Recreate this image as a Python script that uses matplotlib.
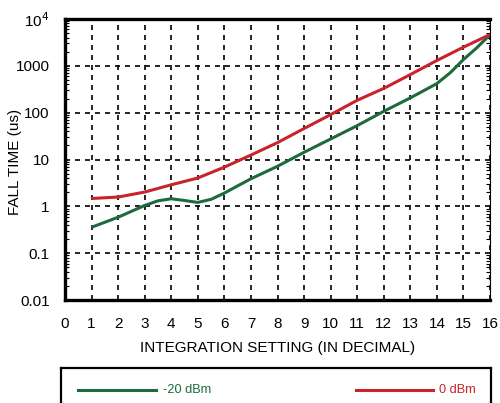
import numpy as np
import matplotlib.pyplot as plt
from matplotlib.ticker import FixedLocator, FixedFormatter, LogLocator, NullFormatter

plt.rcParams['font.family'] = ['Liberation Sans', 'DejaVu Sans']

# Integration setting vs fall time, two input levels
setting_0dbm = [1, 2, 3, 4, 5, 6, 7, 8, 9, 10, 11, 12, 13, 14, 15, 16]
fall_0dbm = [1.48, 1.59, 2.03, 2.9, 4.05, 6.9, 12.5, 23, 46, 91, 184, 330, 650, 1300, 2500, 4650]

setting_m20dbm = [1, 2, 3, 3.5, 4, 4.5, 5, 5.5, 6, 6.5, 7, 8, 9, 10, 11, 12,
                  13, 14, 14.5, 15, 15.5, 16]
fall_m20dbm = [0.36, 0.59, 1.05, 1.32, 1.46, 1.34, 1.22, 1.42, 1.93, 2.75, 3.9, 7.2,
               14.3, 27.5, 53, 107, 207, 418, 710, 1360, 2420, 4600]

y_ticks = [0.01, 0.1, 1, 10, 100, 1000, 10000]
y_labels = ['0.01', '0.1', '1', '10', '100', '1000', r'10$^4$']

green = '#1d6b3c'
red = '#c9232b'

fig = plt.figure(figsize=(5.0, 4.03), dpi=100)
ax = fig.add_axes([0.13, 0.255, 0.85, 0.698])

ax.plot(setting_m20dbm, fall_m20dbm, color=green, lw=2.2, solid_capstyle='butt',
        solid_joinstyle='round')
ax.plot(setting_0dbm, fall_0dbm, color=red, lw=2.2, solid_capstyle='butt',
        solid_joinstyle='round')

ax.set_yscale('log')
ax.set_xlim(0, 16)
ax.set_ylim(0.01, 10000)
ax.set_xticks(range(0, 17))
ax.yaxis.set_major_locator(FixedLocator(y_ticks))
ax.yaxis.set_major_formatter(FixedFormatter(y_labels))
ax.yaxis.set_minor_locator(LogLocator(base=10, subs=np.arange(2, 10)))
ax.yaxis.set_minor_formatter(NullFormatter())

ax.grid(True, which='major', color='black', linestyle=(0, (3, 3)), lw=1.2)
ax.tick_params(which='major', length=0, labelsize=11)
ax.tick_params(axis='x', which='major', pad=12)
ax.tick_params(axis='y', which='major', pad=11)
ax.tick_params(which='minor', direction='in', length=3, width=0.8, left=True, right=True)

for side in ['left', 'top', 'bottom']:
    ax.spines[side].set_linewidth(2.4)
ax.spines['right'].set_linewidth(0.8)

ax.set_xlabel('INTEGRATION SETTING (IN DECIMAL)', fontsize=11, labelpad=7)
ax.set_ylabel('FALL TIME (us)', fontsize=11, va='center')
ax.yaxis.set_label_coords(-0.118, 0.49)

# Legend box under the plot
lax = fig.add_axes([0.122, -0.05, 0.86, 0.137])
lax.set_xlim(0, 1)
lax.set_ylim(0, 1)
lax.set_xticks([])
lax.set_yticks([])
for s in lax.spines.values():
    s.set_linewidth(1.6)
lax.plot([0.04, 0.22], [0.6, 0.6], color=green, lw=2.2)
lax.text(0.237, 0.6, '-20 dBm', color=green, fontsize=9.2, va='center')
lax.plot([0.685, 0.865], [0.6, 0.6], color=red, lw=2.2)
lax.text(0.88, 0.6, '0 dBm', color=red, fontsize=9.2, va='center')

fig.savefig('out.png', dpi=100)
